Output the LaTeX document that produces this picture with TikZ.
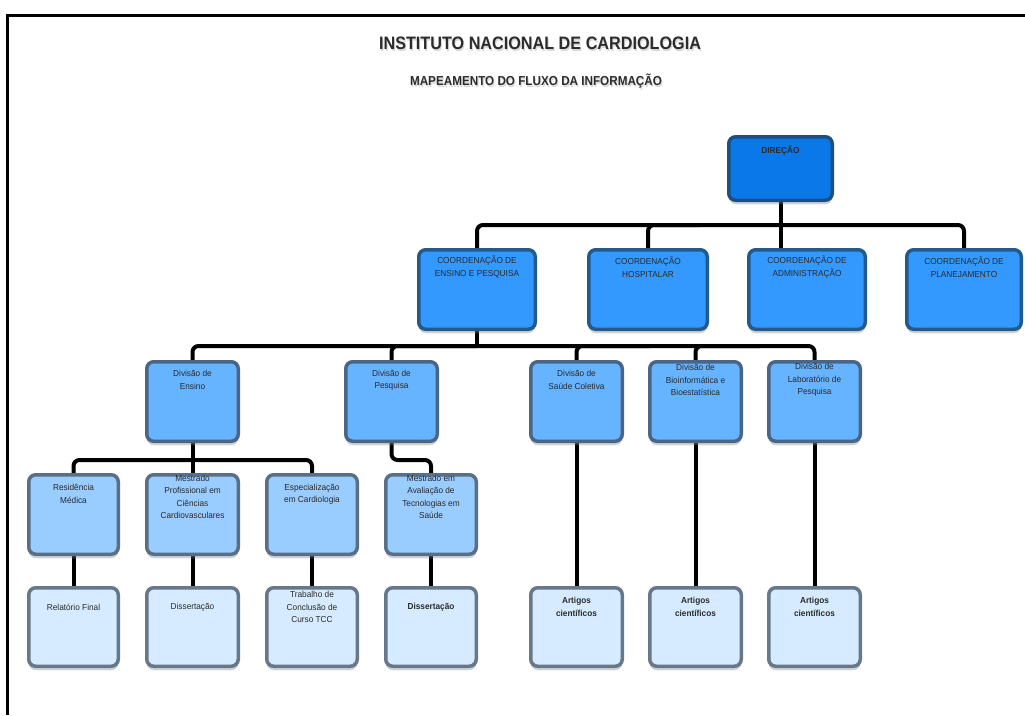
\documentclass[tikz,border=0pt]{standalone}
\usepackage{fontspec}
\setmainfont{Liberation Sans}
\usetikzlibrary{shadows,calc,backgrounds}
\definecolor{dirfill}{HTML}{0A78E8}
\definecolor{dirline}{HTML}{1F4F80}
\definecolor{cofill}{HTML}{3399FF}
\definecolor{coline}{HTML}{235A8C}
\definecolor{dvfill}{HTML}{66B3FF}
\definecolor{dvline}{HTML}{4A6585}
\definecolor{l4fill}{HTML}{99CCFF}
\definecolor{l4line}{HTML}{5A6F85}
\definecolor{l5fill}{HTML}{D6EBFF}
\definecolor{l5line}{HTML}{67788A}
\definecolor{textc}{HTML}{2B2B2B}
\newcommand\obox[8]{%
  \node[box,#2,minimum width={#4-#3-3.5},minimum height={#6-#5-3.5}] (#1) at ({(#3+#4)/2},{(#5+#6)/2}) {};
  \node[txt] (#1t) at ({(#3+#4)/2},{#5+#8}) {#7};}
\begin{document}
\begin{tikzpicture}[x=1pt,y=-1pt,
  box/.style={draw,line width=3.5pt,rounded corners=7pt,inner sep=0pt,outer sep=0pt,
    drop shadow={opacity=0.35,shadow xshift=0pt,shadow yshift=-4pt}},
  dirbox/.style={fill=dirfill,draw=dirline},
  cobox/.style={fill=cofill,draw=coline},
  dvbox/.style={fill=dvfill,draw=dvline},
  lfbox/.style={fill=l4fill,draw=l4line},
  lvbox/.style={fill=l5fill,draw=l5line},
  txt/.style={align=center,font=\fontsize{8.7}{12.5}\selectfont,text=textc,inner sep=0pt,xscale=0.95},
  conn/.style={line width=4pt,rounded corners=6pt},
  ttl/.style={font=\bfseries,text=textc,inner sep=0pt,xscale=0.9}]
\useasboundingbox (0,0) rectangle (1025,715);
\draw[line width=3pt] (1025,15) -- (7,15) -- (7,715);
% titles
\node[ttl,font=\bfseries\fontsize{18}{20}\selectfont,text=black!25,opacity=0.6] at (541,45) {INSTITUTO NACIONAL DE CARDIOLOGIA};
\node[ttl,font=\bfseries\fontsize{18}{20}\selectfont] (title) at (540,43) {INSTITUTO NACIONAL DE CARDIOLOGIA};
\node[ttl,font=\bfseries\fontsize{13}{15}\selectfont,text=black!25,opacity=0.6] at (537,83) {MAPEAMENTO DO FLUXO DA INFORMAÇÃO};
\node[ttl,font=\bfseries\fontsize{13}{15}\selectfont] (subtitle) at (536,81) {MAPEAMENTO DO FLUXO DA INFORMAÇÃO};
% level 1
\obox{dir}{dirbox}{727}{834}{135}{202}{\textbf{DIREÇÃO}}{16}
% level 2
\obox{ce}{cobox}{417}{537}{248}{331}{COORDENAÇÃO DE\\ENSINO E PESQUISA}{19}
\obox{ch}{cobox}{587}{709}{248}{331}{COORDENAÇÃO\\HOSPITALAR}{19}
\obox{ca}{cobox}{747}{867}{248}{331}{COORDENAÇÃO DE\\ADMINISTRAÇÃO}{19}
\obox{cp}{cobox}{905}{1023}{248}{331}{COORDENAÇÃO DE\\PLANEJAMENTO}{19}
% level 3
\obox{de}{dvbox}{145}{240}{360}{443}{Divisão de\\Ensino}{20}
\obox{dp}{dvbox}{344}{439}{360}{443}{Divisão de\\Pesquisa}{20}
\obox{ds}{dvbox}{529}{624}{360}{443}{Divisão de\\Saúde Coletiva}{20}
\obox{db}{dvbox}{648}{743}{360}{443}{Divisão de\\Bioinformática e\\Bioestatística}{20}
\obox{dl}{dvbox}{767}{862}{360}{443}{Divisão de\\Laboratório de\\Pesquisa}{20}
% level 4
\obox{ra}{lfbox}{27}{120}{473}{556}{Residência\\Médica}{21}
\obox{rb}{lfbox}{145}{240}{473}{556}{Mestrado\\Profissional em\\Ciências\\Cardiovasculares}{24}
\obox{rc}{lfbox}{265}{359}{473}{556}{Especialização\\em Cardiologia}{21}
\obox{rd}{lfbox}{384}{478}{473}{556}{Mestrado em\\Avaliação de\\Tecnologias em\\Saúde}{24}
% level 5
\obox{pa}{lvbox}{27}{120}{586}{668}{Relatório Final}{21}
\obox{pb}{lvbox}{145}{240}{586}{668}{Dissertação}{21}
\obox{pc}{lvbox}{265}{359}{586}{668}{Trabalho de\\Conclusão de\\Curso TCC}{21}
\obox{pd}{lvbox}{384}{478}{586}{668}{\textbf{Dissertação}}{21}
\obox{pe}{lvbox}{529}{624}{586}{668}{\textbf{Artigos}\\\textbf{científicos}}{21}
\obox{pf}{lvbox}{648}{743}{586}{668}{\textbf{Artigos}\\\textbf{científicos}}{21}
\obox{pg}{lvbox}{767}{862}{586}{668}{\textbf{Artigos}\\\textbf{científicos}}{21}
% connectors
\begin{scope}[on background layer]
\draw[conn] (ce.north) |- (780.5,225) -| (964,248);
\draw[conn] (dir.south) -- (780.5,248);
\draw[conn] (ch.north) |- (700,225);
\draw[conn] (de.north) |- (477,346) -| (dl.north);
\draw[conn] (ce.south) -- (477,346);
\draw[conn] (dp.north) |- (477,346);
\draw[conn] (ds.north) |- (650,346);
\draw[conn] (db.north) |- (760,346);
\draw[conn] (ra.north) |- (192.5,460) -| (rc.north);
\draw[conn] (de.south) -- (rb.north);
\draw[conn] (dp.south) |- (431,460) -- (rd.north);
\draw[conn] (ra.south) -- (pa.north);
\draw[conn] (rb.south) -- (pb.north);
\draw[conn] (rc.south) -- (pc.north);
\draw[conn] (rd.south) -- (pd.north);
\draw[conn] (ds.south) -- (pe.north);
\draw[conn] (db.south) -- (pf.north);
\draw[conn] (dl.south) -- (pg.north);
\end{scope}
\end{tikzpicture}
\end{document}
